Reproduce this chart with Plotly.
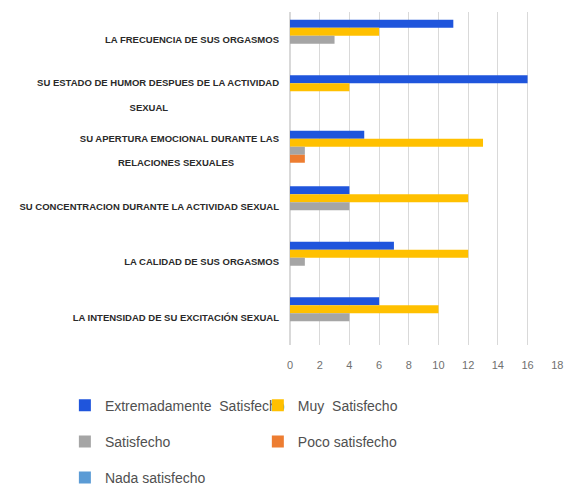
import plotly.graph_objects as go

NB = "\u00a0"
categories = [
    "LA FRECUENCIA DE SUS ORGASMOS",
    "SU ESTADO DE HUMOR DESPUES DE LA ACTIVIDAD SEXUAL",
    "SU APERTURA EMOCIONAL DURANTE LAS RELACIONES SEXUALES",
    "SU CONCENTRACION DURANTE LA ACTIVIDAD SEXUAL",
    "LA CALIDAD DE SUS ORGASMOS",
    "LA INTENSIDAD DE SU EXCITACIÓN SEXUAL",
]
category_labels = [
    "LA FRECUENCIA DE SUS ORGASMOS",
    "SU ESTADO DE HUMOR DESPUES DE LA ACTIVIDAD<br><br>SEXUAL" + NB * 42,
    "SU APERTURA EMOCIONAL DURANTE LAS<br><br>RELACIONES SEXUALES" + NB * 17,
    "SU CONCENTRACION DURANTE LA ACTIVIDAD SEXUAL",
    "LA CALIDAD DE SUS ORGASMOS",
    "LA INTENSIDAD DE SU EXCITACIÓN SEXUAL",
]
series_names = ["Extremadamente  Satisfecho", "Muy  Satisfecho", "Satisfecho",
                "Poco satisfecho", "Nada satisfecho"]
extremadamente = [11, 16, 5, 4, 7, 6]
muy = [6, 4, 13, 12, 12, 10]
satisfecho = [3, 0, 1, 4, 1, 4]
poco = [0, 0, 1, 0, 0, 0]
nada = [0, 0, 0, 0, 0, 0]
x_ticks = [0, 2, 4, 6, 8, 10, 12, 14, 16, 18]

colors = ["#1F55DC", "#FFC000", "#A5A5A5", "#ED7D31", "#5B9BD5"]
values = [extremadamente, muy, satisfecho, poco, nada]
legend_ids = ["legend", "legend2", "legend", "legend2", "legend"]

fig = go.Figure()
for i, (name, vals, c, lg) in enumerate(zip(series_names, values, colors, legend_ids)):
    fig.add_trace(go.Bar(y=categories, x=vals, name=name, orientation="h",
                         legend=lg, legendgroup=f"g{i}",
                         marker=dict(color=c, line=dict(width=0))))

legend_common = dict(orientation="v", yanchor="top", xanchor="left",
                     font=dict(size=14, color="#505050",
                               family="Liberation Sans Narrow, Liberation Sans, sans-serif"),
                     tracegroupgap=15, bgcolor="rgba(0,0,0,0)", itemwidth=30)

fig.update_layout(
    width=573, height=488,
    margin=dict(l=282, r=23, t=4, b=151, autoexpand=False),
    plot_bgcolor="white", paper_bgcolor="white",
    barmode="group", bargap=0.28, bargroupgap=0,
    font=dict(family="Liberation Sans Narrow, Liberation Sans, sans-serif", color="#404040"),
    xaxis=dict(range=[0, 18.05], tickvals=x_ticks, showgrid=True, gridcolor="#D9D9D9",
               gridwidth=1, zeroline=True, zerolinecolor="#D9D9D9",
               tickfont=dict(size=11, color="#707070"), ticks="", showline=False,
               ticklabelstandoff=12),
    yaxis=dict(autorange="reversed", tickmode="array",
               tickvals=categories, ticktext=category_labels,
               tickfont=dict(size=9.5, color="#2a2a2a", weight="bold"),
               ticks="", showline=False, ticklabelstandoff=10),
    legend=dict(x=-0.84, y=-0.134, **legend_common),
    legend2=dict(x=-0.12, y=-0.134, **legend_common),
    showlegend=True,
)
fig.write_html("out.html")
